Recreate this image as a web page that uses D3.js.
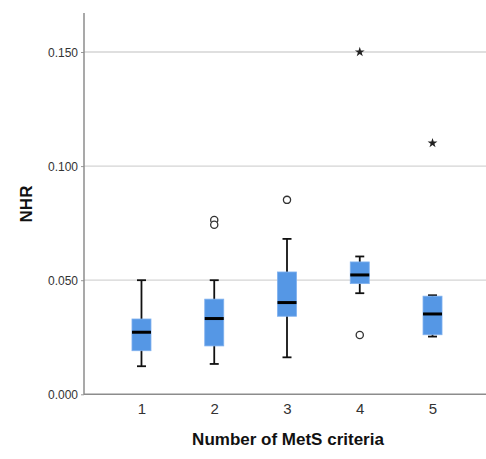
<!DOCTYPE html>
<html>
<head>
<meta charset="utf-8">
<script src="https://cdn.jsdelivr.net/npm/d3@7"></script>
<style>
  html, body { margin: 0; padding: 0; background: #fff; }
  svg { display: block; font-family: "Liberation Sans", Arial, sans-serif; }
</style>
</head>
<body>
<svg id="chart" width="486" height="459"></svg>
<script>
// Number of MetS criteria met
const categories = ["1", "2", "3", "4", "5"];
// Box summaries of NHR per group
const whiskerLow  = [0.0123, 0.0133, 0.0162, 0.0443, 0.0253];
const q1          = [0.0191, 0.0212, 0.0342, 0.0485, 0.0261];
const median      = [0.0272, 0.0332, 0.0402, 0.0523, 0.0352];
const q3          = [0.0330, 0.0417, 0.0536, 0.0580, 0.0430];
const whiskerHigh = [0.0500, 0.0500, 0.0681, 0.0604, 0.0434];
// Outliers (circles) and extreme values (stars)
const outlierCat = ["2", "2", "3", "4"];
const outlierVal = [0.0764, 0.0743, 0.0852, 0.0260];
const extremeCat = ["4", "5"];
const extremeVal = [0.1500, 0.1101];
const yTicks = [0, 0.05, 0.10, 0.15];

const svg = d3.select("#chart");
const axisLeft = 84, axisBottom = 394.3, axisTop = 13, plotRight = 486;

const x = d3.scalePoint().domain(categories).range([axisLeft, 490]).padding(0.79);
const y = d3.scaleLinear().domain([0, 0.15]).range([axisBottom, 52]);

// gridlines
svg.append("g").selectAll("line").data(yTicks.filter(t => t > 0)).join("line")
  .attr("x1", axisLeft).attr("x2", plotRight)
  .attr("y1", d => y(d)).attr("y2", d => y(d))
  .attr("stroke", "#d4d4d4").attr("stroke-width", 1.3);

// y axis
const yAxis = svg.append("g").attr("transform", `translate(${axisLeft},0)`)
  .call(d3.axisLeft(y).tickValues(yTicks).tickFormat(d3.format(".3f")).tickSize(3).tickPadding(3));
yAxis.select(".domain").remove();
yAxis.selectAll(".tick line").attr("stroke", "#999");
yAxis.selectAll(".tick text").attr("font-size", 12).attr("fill", "#333")
  .attr("font-family", "Liberation Sans, Arial, sans-serif").attr("dy", "0.36em");
svg.append("line").attr("x1", axisLeft).attr("x2", axisLeft)
  .attr("y1", axisTop).attr("y2", axisBottom + 0.5)
  .attr("stroke", "#8c8c8c").attr("stroke-width", 1.5);

// x axis
const xAxis = svg.append("g").attr("transform", `translate(0,${axisBottom})`)
  .call(d3.axisBottom(x).tickSize(0).tickPadding(9));
xAxis.select(".domain").remove();
xAxis.selectAll(".tick text").attr("font-size", 15).attr("fill", "#333")
  .attr("font-family", "Liberation Sans, Arial, sans-serif");
svg.append("line").attr("x1", axisLeft).attr("x2", plotRight)
  .attr("y1", axisBottom).attr("y2", axisBottom)
  .attr("stroke", "#8c8c8c").attr("stroke-width", 1.5);

// boxes
const boxW = 19, capW = 9;
const rows = categories.map((c, i) => ({
  c, lo: whiskerLow[i], q1: q1[i], med: median[i], q3: q3[i], hi: whiskerHigh[i]
}));
const g = svg.append("g");
rows.forEach(r => {
  const cx = x(r.c);
  g.append("line").attr("x1", cx).attr("x2", cx).attr("y1", y(r.hi)).attr("y2", y(r.lo))
    .attr("stroke", "#111").attr("stroke-width", 1.8);
  [r.lo, r.hi].forEach(v => g.append("line")
    .attr("x1", cx - capW / 2).attr("x2", cx + capW / 2).attr("y1", y(v)).attr("y2", y(v))
    .attr("stroke", "#111").attr("stroke-width", 1.8));
  g.append("rect").attr("x", cx - boxW / 2).attr("width", boxW)
    .attr("y", y(r.q3)).attr("height", y(r.q1) - y(r.q3))
    .attr("fill", "#5597e5").attr("stroke", "#7fb0ee").attr("stroke-width", 0.8);
  g.append("line").attr("x1", cx - boxW / 2).attr("x2", cx + boxW / 2)
    .attr("y1", y(r.med)).attr("y2", y(r.med))
    .attr("stroke", "#000").attr("stroke-width", 3);
});

// outliers
g.selectAll("circle.out").data(outlierVal).join("circle").attr("class", "out")
  .attr("cx", (d, i) => x(outlierCat[i])).attr("cy", d => y(d)).attr("r", 3.6)
  .attr("fill", "#fff").attr("stroke", "#333").attr("stroke-width", 1.3);

// extremes
g.selectAll("path.ext").data(extremeVal).join("path").attr("class", "ext")
  .attr("d", d3.symbol(d3.symbolStar, 30))
  .attr("transform", (d, i) => `translate(${x(extremeCat[i])},${y(d)})`)
  .attr("fill", "#222");

// axis titles
svg.append("text").attr("x", 288).attr("y", 445)
  .attr("text-anchor", "middle").attr("font-size", 17).attr("font-weight", "bold").attr("fill", "#111")
  .text("Number of MetS criteria");
svg.append("text").attr("transform", "translate(32,204) rotate(-90)")
  .attr("text-anchor", "middle").attr("font-size", 17).attr("font-weight", "bold").attr("fill", "#111")
  .text("NHR");
</script>
</body>
</html>
